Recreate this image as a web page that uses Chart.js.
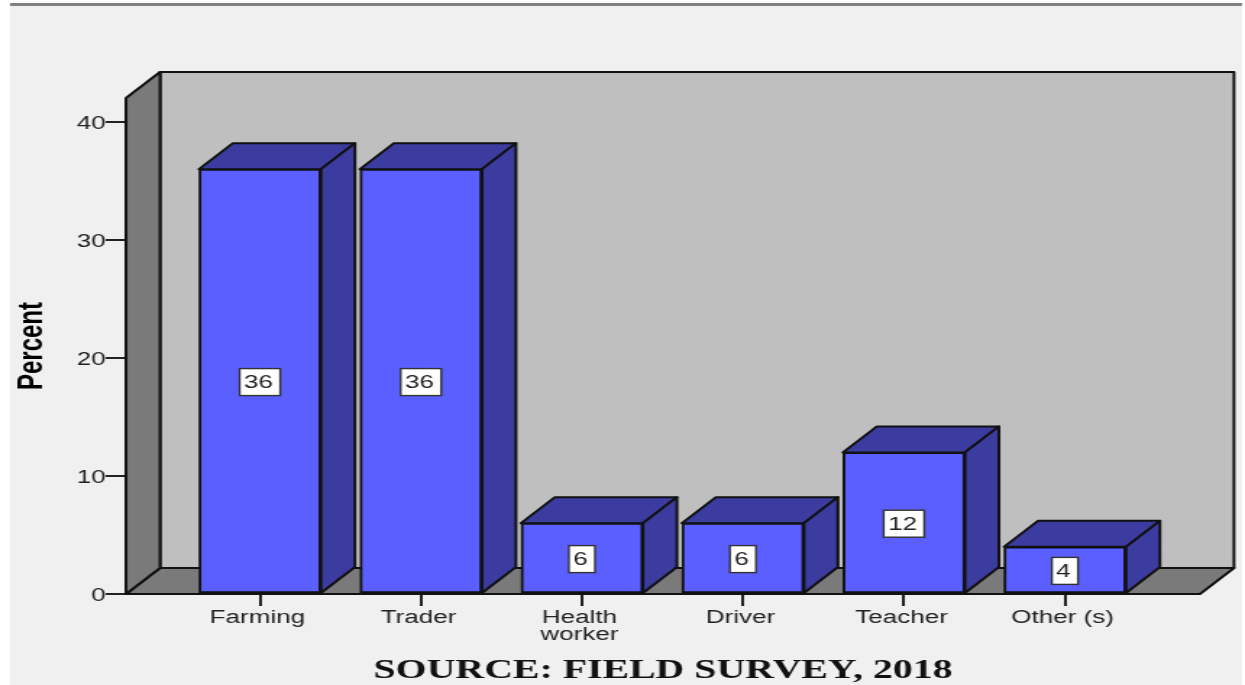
<!DOCTYPE html>
<html>
<head>
<meta charset="utf-8">
<script src="https://cdn.jsdelivr.net/npm/chart.js@4"></script>
<style>
  html, body { margin: 0; padding: 0; background: #fff; overflow: hidden; }
  /* the reference is a horizontally stretched, slightly soft picture, so the canvas is too */
  #chart { display: block; transform-origin: 0 0; transform: scaleX(1.44767); filter: blur(0.4px); }
</style>
</head>
<body>
<canvas id="chart" width="860" height="685"></canvas>
<script>
const categories = ['Farming', 'Trader', ['Health', 'worker'], 'Driver', 'Teacher', 'Other (s)'];
const percent = [36, 36, 6, 6, 12, 4];
const yTitle = 'Percent';
const xTitle = 'SOURCE: FIELD SURVEY, 2018';

const STRETCH = 1245 / 860;
const DEPTH_X = 34 / STRETCH;
const DEPTH_Y = 26;

function poly(ctx, pts, fill) {
    ctx.beginPath();
    pts.forEach((p, i) => i ? ctx.lineTo(p[0], p[1]) : ctx.moveTo(p[0], p[1]));
    ctx.closePath();
    ctx.fillStyle = fill;
    ctx.fill();
    ctx.stroke();
}

// Page background, strip at the top
const pagePlugin = {
    id: 'page',
    beforeDraw(chart) {
        const ctx = chart.ctx;
        ctx.save();
        ctx.fillStyle = '#f0f0f0';
        ctx.fillRect(10 / STRETCH, 5, 1232 / STRETCH, 680);
        ctx.fillStyle = '#808080';
        ctx.fillRect(10 / STRETCH, 3, 1232 / STRETCH, 3);
        ctx.restore();
    }
};

// Fake 3D box: walls and floor behind the bars, side and top of each bar
const box3dPlugin = {
    id: 'box3d',
    beforeDatasetsDraw(chart) {
        const ctx = chart.ctx;
        const { left, right, top, bottom } = chart.chartArea;
        ctx.save();
        ctx.strokeStyle = '#111';
        ctx.lineWidth = 2;
        ctx.lineJoin = 'round';
        poly(ctx, [[left + DEPTH_X, top - DEPTH_Y], [right + DEPTH_X, top - DEPTH_Y], [right + DEPTH_X, bottom - DEPTH_Y], [left + DEPTH_X, bottom - DEPTH_Y]], '#bfbfbf');
        poly(ctx, [[left, bottom], [left + DEPTH_X, bottom - DEPTH_Y], [right + DEPTH_X, bottom - DEPTH_Y], [right, bottom]], '#7a7a7a');
        poly(ctx, [[left, top], [left + DEPTH_X, top - DEPTH_Y], [left + DEPTH_X, bottom - DEPTH_Y], [left, bottom]], '#7a7a7a');

        chart.getDatasetMeta(0).data.forEach(bar => {
            const l = bar.x - bar.width / 2;
            const r = bar.x + bar.width / 2;
            poly(ctx, [[l, bar.y], [l + DEPTH_X, bar.y - DEPTH_Y], [r + DEPTH_X, bar.y - DEPTH_Y], [r, bar.y]], '#3b3ba0');
            poly(ctx, [[r, bar.y], [r + DEPTH_X, bar.y - DEPTH_Y], [r + DEPTH_X, bar.base - DEPTH_Y], [r, bar.base]], '#3b3ba0');
        });
        ctx.restore();
    },
    afterDatasetsDraw(chart) {
        const ctx = chart.ctx;
        const { left, right, bottom } = chart.chartArea;
        ctx.save();
        ctx.strokeStyle = '#111';
        ctx.lineWidth = 2;
        ctx.beginPath();
        ctx.moveTo(left, bottom);
        ctx.lineTo(right, bottom);
        ctx.stroke();

        // value boxes in the middle of each bar
        ctx.font = '18px "Liberation Sans"';
        ctx.textAlign = 'center';
        ctx.textBaseline = 'middle';
        chart.getDatasetMeta(0).data.forEach((bar, i) => {
            const label = String(percent[i]);
            const w = ctx.measureText(label).width + 8;
            const h = 27;
            const cy = (bar.y + bar.base) / 2 + 1;
            ctx.fillStyle = '#fff';
            ctx.strokeStyle = '#333';
            ctx.lineWidth = 1.4;
            ctx.fillRect(bar.x - w / 2, cy - h / 2, w, h);
            ctx.strokeRect(bar.x - w / 2, cy - h / 2, w, h);
            ctx.fillStyle = '#222';
            ctx.fillText(label, bar.x - 1, cy + 1);
        });
        ctx.restore();
    }
};

new Chart(document.getElementById('chart'), {
    type: 'bar',
    data: {
        datasets: [{
            data: percent.map((v, i) => ({ x: i, y: v })),
            backgroundColor: '#5b5fff',
            borderColor: '#111',
            borderWidth: 2,
            borderSkipped: false,
            barThickness: 122 / STRETCH
        }]
    },
    plugins: [pagePlugin, box3dPlugin],
    options: {
        responsive: false,
        animation: false,
        layout: { padding: { top: 98, right: 860 - 1200 / STRETCH, left: 0, bottom: 0 } },
        plugins: { legend: { display: false }, tooltip: { enabled: false } },
        scales: {
            x: {
                type: 'linear',
                offset: false,
                min: -0.832,
                max: 5.839,
                afterBuildTicks: scale => { scale.ticks = categories.map((c, i) => ({ value: i })); },
                afterFit: scale => { scale.height = 91; },
                grid: { offset: false, drawOnChartArea: false, color: '#222', lineWidth: 2, tickLength: 12 },
                border: { display: false },
                ticks: {
                    callback: v => categories[v],
                    autoSkip: false,
                    maxRotation: 0,
                    padding: 3,
                    labelOffset: -1.7,
                    color: '#222',
                    font: { family: '"Liberation Sans"', size: 18, lineHeight: 0.95 }
                },
                title: {
                    display: true,
                    text: xTitle,
                    color: '#111',
                    padding: { top: 0, bottom: -2 },
                    font: { family: '"Liberation Serif"', size: 27.5, weight: 'bold' }
                }
            },
            y: {
                min: 0,
                max: 42.03,
                afterFit: scale => { scale.width = 126 / STRETCH; },
                grid: { drawOnChartArea: false, color: '#222', lineWidth: 2, tickLength: 14 },
                border: { display: false },
                ticks: {
                    stepSize: 10,
                    includeBounds: false,
                    padding: 0,
                    labelOffset: 2.5,
                    color: '#222',
                    font: { family: '"Liberation Sans"', size: 18 }
                },
                title: {
                    display: true,
                    text: yTitle,
                    color: '#000',
                    padding: { top: 7.7, bottom: 0 },
                    font: { family: '"Liberation Sans Narrow", "Liberation Sans"', size: 24, weight: 'bold' }
                }
            }
        }
    }
});
</script>
</body>
</html>
